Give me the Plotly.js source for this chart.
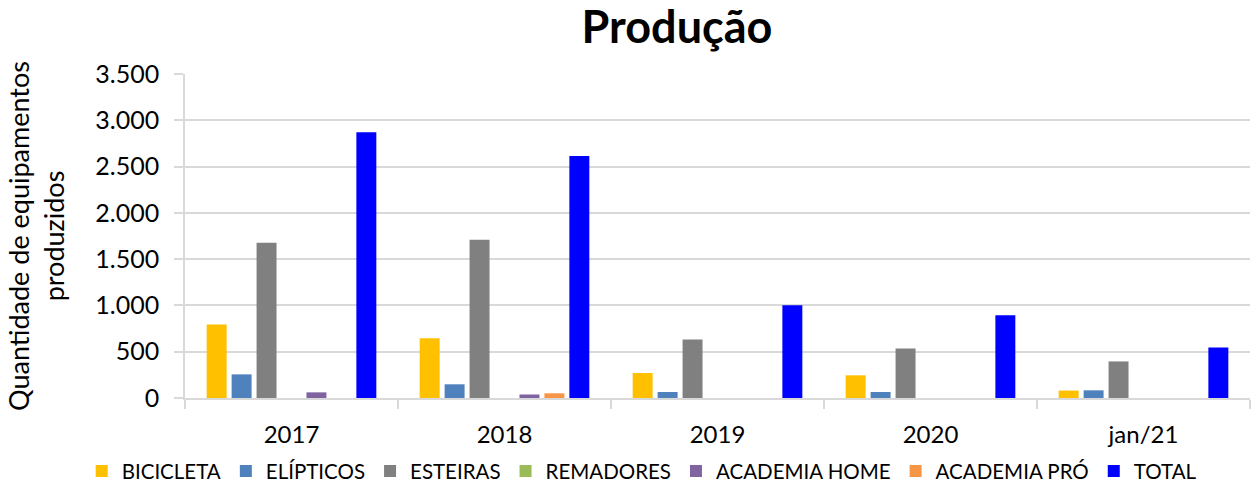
<!DOCTYPE html>
<html>
<head>
<meta charset="utf-8">
<script src="https://cdn.plot.ly/plotly-3.0.1.min.js"></script>
<style>html,body{margin:0;padding:0;background:#fff;}#chart{width:1255px;height:497px;}</style>
</head>
<body>
<div id="chart"></div>
<script>
const categories = ["2017", "2018", "2019", "2020", "jan/21"];
const seriesNames = ["BICICLETA", "ELÍPTICOS", "ESTEIRAS", "REMADORES", "ACADEMIA HOME", "ACADEMIA PRÓ", "TOTAL"];
const bicicleta = [795, 645, 270, 245, 80];
const elipticos = [255, 148, 65, 65, 83];
const esteiras = [1678, 1710, 632, 535, 395];
const remadores = [0, 0, 0, 0, 0];
const academiaHome = [61, 38, 0, 0, 0];
const academiaPro = [0, 51, 0, 0, 0];
const total = [2870, 2615, 1002, 894, 546];
const yTicks = [0, 500, 1000, 1500, 2000, 2500, 3000, 3500];

const seriesValues = [bicicleta, elipticos, esteiras, remadores, academiaHome, academiaPro, total];
const colors = ["#FFC000", "#4F81BD", "#808080", "#9BBB59", "#8064A2", "#F79646", "#0000FF"];

const data = seriesNames.map((name, i) => ({
  type: "bar",
  name: name,
  x: categories,
  y: seriesValues[i],
  marker: { color: colors[i], line: { width: 0 } },
  hoverinfo: "x+y+name"
}));

const font = "Lato, 'Open Sans', sans-serif";
const layout = {
  width: 1255,
  height: 497,
  paper_bgcolor: "#fff",
  plot_bgcolor: "#fff",
  separators: ",.",
  margin: { l: 185, r: 5, t: 74, b: 99 },
  barmode: "group",
  bargap: 0.18,
  bargroupgap: 0.2,
  title: {
    text: "<b>Produção</b>",
    font: { family: font, size: 45, color: "#000" },
    xref: "paper", x: 0.462, xanchor: "center",
    yref: "container", y: 0.945, yanchor: "middle"
  },
  xaxis: {
    type: "category",
    showline: true, linecolor: "#d9d9d9", linewidth: 1.5,
    ticks: "outside", tickson: "boundaries", ticklen: 9, tickcolor: "#d9d9d9", tickwidth: 1.5,
    tickfont: { family: font, size: 24, color: "#000" },
    ticklabelstandoff: 14,
    showgrid: false
  },
  yaxis: {
    range: [0, 3500],
    tickvals: yTicks,
    tickformat: ",d",
    showline: true, linecolor: "#d9d9d9", linewidth: 1.5,
    ticks: "outside", ticklen: 9, tickcolor: "#d9d9d9", tickwidth: 1.5,
    gridcolor: "#d9d9d9", gridwidth: 1.5,
    zeroline: false,
    tickfont: { family: font, size: 25, color: "#000" },
    ticklabelstandoff: 10,
    title: {
      text: "Quantidade de equipamentos<br>produzidos",
      font: { family: font, size: 27, color: "#000" },
      standoff: 23
    }
  },
  legend: {
    orientation: "h",
    x: -0.097, xanchor: "left",
    y: -0.226, yanchor: "middle",
    font: { family: font, size: 20.5, color: "#000" },
    bgcolor: "rgba(0,0,0,0)",
    itemwidth: 30,
    traceorder: "normal"
  },
  showlegend: true
};

Plotly.newPlot("chart", data, layout, { displayModeBar: false, responsive: false });
</script>
</body>
</html>
